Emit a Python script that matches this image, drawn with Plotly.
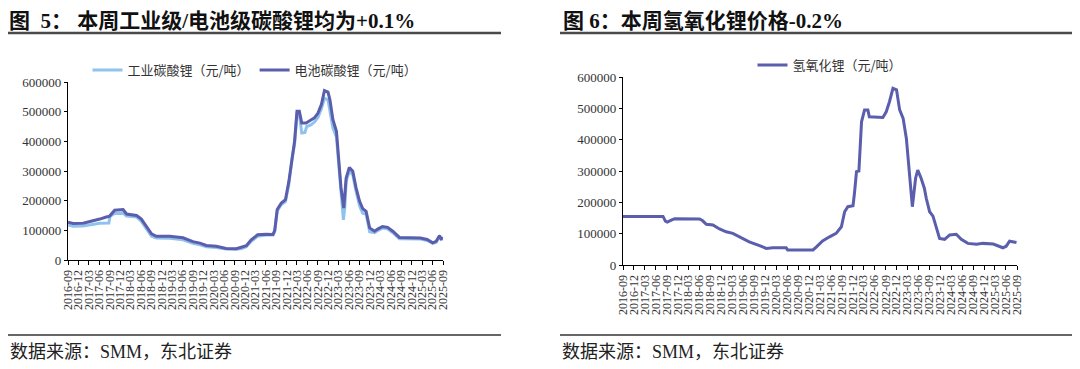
import plotly.graph_objects as go

# ---------------- data ----------------
battery_dates = ["2016-09-01","2016-10-15","2017-01-12","2017-03-01","2017-06-06","2017-08-03","2017-09-01","2017-10-15","2017-12-28","2018-01-27","2018-03-25","2018-04-25","2018-06-06","2018-07-18","2018-09-03","2018-10-15","2019-02-10","2019-06-06","2019-09-01","2019-11-01","2019-12-28","2020-03-24","2020-06-18","2020-09-15","2020-11-01","2020-12-12","2021-01-24","2021-03-21","2021-06-03","2021-08-03","2021-08-18","2021-09-09","2021-10-15","2021-11-20","2021-12-20","2022-01-18","2022-02-08","2022-03-01","2022-03-22","2022-04-12","2022-05-20","2022-07-01","2022-08-01","2022-09-01","2022-10-01","2022-10-28","2022-11-28","2022-12-15","2023-01-10","2023-02-10","2023-03-07","2023-03-22","2023-04-15","2023-05-06","2023-06-03","2023-07-03","2023-08-01","2023-09-01","2023-09-28","2023-10-28","2023-11-28","2024-01-10","2024-02-10","2024-03-20","2024-05-03","2024-06-18","2024-08-15","2024-10-15","2024-12-15","2025-02-15","2025-04-15","2025-06-03","2025-07-03","2025-08-01","2025-08-15","2025-09-01"]
battery_vals = [127000,123000,124000,128000,138000,145000,148000,168000,170000,155000,153000,150000,138000,115000,88000,80000,80000,75000,62000,57000,49000,46000,39000,38000,42000,48000,68000,85000,87000,86000,100000,170000,192000,203000,265000,355000,400000,501000,501000,462000,462000,472000,479000,495000,524000,571000,566000,540000,473000,434000,321000,243000,175000,276000,312000,299000,243000,198000,173000,164000,108000,97000,105000,113000,110000,97000,76000,76000,76000,74000,69000,58000,63000,82000,72000,74000]

industrial_dates = ["2016-09-01","2016-10-15","2017-01-12","2017-03-01","2017-06-06","2017-08-25","2017-09-05","2017-10-15","2017-12-28","2018-01-27","2018-04-25","2018-06-06","2018-07-18","2018-09-03","2018-10-15","2019-02-10","2019-06-06","2019-09-01","2019-11-01","2019-12-28","2020-03-24","2020-06-18","2020-09-15","2020-11-01","2020-12-12","2021-01-24","2021-03-21","2021-06-03","2021-08-03","2021-08-18","2021-09-09","2021-10-15","2021-11-20","2021-12-20","2022-01-18","2022-02-08","2022-03-01","2022-03-22","2022-04-12","2022-05-10","2022-05-25","2022-07-01","2022-08-01","2022-09-01","2022-10-01","2022-10-28","2022-11-28","2022-12-15","2023-01-10","2023-02-10","2023-03-07","2023-03-22","2023-04-12","2023-04-25","2023-05-06","2023-06-03","2023-07-03","2023-08-01","2023-09-01","2023-09-28","2023-10-28","2023-11-28","2024-01-10","2024-02-10","2024-03-20","2024-05-03","2024-06-18","2024-08-15","2024-10-15","2024-12-15","2025-02-15","2025-04-15","2025-06-03","2025-07-03","2025-08-01","2025-08-15","2025-09-01"]
industrial_vals = [118000,114000,115000,118000,124000,125000,148000,157000,158000,148000,145000,130000,108000,80000,74000,73000,68000,56000,51000,45000,42000,37000,36000,39000,45000,63000,80000,84000,84000,96000,165000,187000,197000,255000,345000,390000,492000,490000,428000,430000,450000,455000,465000,480000,510000,545000,540000,505000,445000,415000,300000,220000,135000,180000,265000,300000,287000,232000,182000,158000,155000,95000,92000,100000,108000,105000,92000,72000,72000,73000,71000,66000,56000,60000,78000,69000,71000]

lioh_dates = ["2016-09-01","2017-08-01","2017-08-21","2017-09-05","2017-10-09","2017-11-06","2018-06-01","2018-06-28","2018-07-28","2018-09-21","2018-11-15","2019-01-10","2019-03-06","2019-05-01","2019-07-21","2019-10-15","2019-12-10","2020-02-03","2020-05-24","2020-06-06","2021-01-03","2021-02-01","2021-03-24","2021-05-21","2021-07-15","2021-08-28","2021-09-24","2021-10-21","2021-12-03","2021-12-15","2022-01-01","2022-01-21","2022-02-12","2022-03-09","2022-04-06","2022-04-18","2022-08-09","2022-09-06","2022-10-03","2022-11-01","2022-12-01","2022-12-27","2023-01-25","2023-02-21","2023-03-18","2023-04-12","2023-05-09","2023-05-27","2023-06-24","2023-07-21","2023-08-06","2023-09-03","2023-10-01","2023-10-28","2023-11-25","2024-01-06","2024-02-18","2024-04-12","2024-05-24","2024-07-18","2024-09-28","2024-11-21","2025-02-15","2025-05-06","2025-06-03","2025-07-01","2025-07-28","2025-08-28"]
lioh_vals = [155000,155000,140000,137000,143000,148000,147000,141000,130000,128000,115000,106000,101000,90000,74000,62000,53000,55000,55000,48000,48000,58000,77000,90000,101000,122000,170000,186000,189000,229000,298000,300000,457000,495000,495000,473000,471000,489000,521000,564000,559000,495000,468000,404000,298000,186000,277000,303000,277000,245000,213000,170000,156000,122000,85000,82000,96000,98000,82000,69000,66000,69000,67000,55000,60000,76000,74000,72000]

titles = ["图\u20025：\u00a0本周工业级/电池级碳酸锂均为+0.1%", "图 6：本周氢氧化锂价格-0.2%"]
source_text = "数据来源：SMM，东北证券"
names = ["工业碳酸锂（元/吨）", "电池碳酸锂（元/吨）", "氢氧化锂（元/吨）"]

DARK = "#5A5EAC"
LIGHT = "#8FC3EE"
SERIF = "Liberation Serif, Times New Roman, serif"
CJK = "Noto Sans CJK SC, sans-serif"

# page body has an 8px margin; the figure fills the rest of the 1080x369 window
OFF = 8
W, H = 1080 - OFF, 369 - OFF

def px_x(p):
    return (p - OFF) / W

def px_y(p):
    return 1 - (p - OFF) / H

fig = go.Figure()
fig.add_trace(go.Scatter(x=industrial_dates, y=industrial_vals, mode="lines", name=names[0],
                         line=dict(color=LIGHT, width=3), xaxis="x", yaxis="y", legend="legend"))
fig.add_trace(go.Scatter(x=battery_dates, y=battery_vals, mode="lines", name=names[1],
                         line=dict(color=DARK, width=3), xaxis="x", yaxis="y", legend="legend"))
fig.add_trace(go.Scatter(x=lioh_dates, y=lioh_vals, mode="lines", name=names[2],
                         line=dict(color=DARK, width=3), xaxis="x2", yaxis="y2", legend="legend2"))

xcommon = dict(type="date", tick0="2016-09-01", dtick="M3", tickformat="%Y-%m", tickangle=-90,
               showline=True, linecolor="#000", linewidth=1.3, ticks="outside", ticklen=4,
               tickcolor="#000", tickfont=dict(family=SERIF, size=12, color="#333"),
               showgrid=False, zeroline=False, range=["2016-09-01", "2025-09-01"], automargin=False)
ycommon = dict(range=[0, 600000], dtick=100000, tickformat="d", showline=True, linecolor="#000",
               linewidth=1.3, ticks="outside", ticklen=3, tickcolor="#000",
               tickfont=dict(family=SERIF, size=13, color="#333"), showgrid=False, zeroline=False,
               automargin=False)

fig.update_layout(
    width=W, height=H, margin=dict(l=0, r=0, t=0, b=0, autoexpand=False),
    paper_bgcolor="white", plot_bgcolor="white",
    xaxis=dict(domain=[px_x(68), px_x(443)], anchor="y", **xcommon),
    yaxis=dict(domain=[px_y(260), px_y(82)], anchor="x", **ycommon),
    xaxis2=dict(domain=[px_x(623), px_x(1017)], anchor="y2", **xcommon),
    yaxis2=dict(domain=[px_y(265), px_y(77)], anchor="x2", **ycommon),
    legend=dict(orientation="h", x=px_x(255), xanchor="center", y=px_y(70), yanchor="middle",
                font=dict(family=CJK, size=13, color="#333"), bgcolor="rgba(0,0,0,0)"),
    legend2=dict(orientation="h", x=px_x(830), xanchor="center", y=px_y(65), yanchor="middle",
                 font=dict(family=CJK, size=13, color="#333"), bgcolor="rgba(0,0,0,0)"),
    showlegend=True,
)

title_font = dict(family="Liberation Serif, Noto Sans CJK SC", size=21, color="#111")
for tx, x0 in [(titles[0], 8), (titles[1], 562)]:
    fig.add_annotation(text="<b>" + tx + "</b>", x=px_x(x0), y=1, xref="paper", yref="paper",
                       xanchor="left", yanchor="top", showarrow=False, font=title_font, borderpad=0)
for x0 in [8, 560]:
    fig.add_annotation(text=source_text, x=px_x(x0), y=px_y(352), xref="paper", yref="paper",
                       xanchor="left", yanchor="middle", showarrow=False,
                       font=dict(family="Liberation Serif, Noto Sans CJK SC", size=18, color="#222"))

for (a, b) in [(7, 501), (560, 1080)]:
    fig.add_shape(type="line", xref="paper", yref="paper", x0=px_x(a), x1=px_x(b),
                  y0=px_y(33), y1=px_y(33), line=dict(color="#4a4a4a", width=2.5))
    fig.add_shape(type="line", xref="paper", yref="paper", x0=px_x(a), x1=px_x(b),
                  y0=px_y(335), y1=px_y(335), line=dict(color="#333", width=1.3))

fig.write_html("out.html")
